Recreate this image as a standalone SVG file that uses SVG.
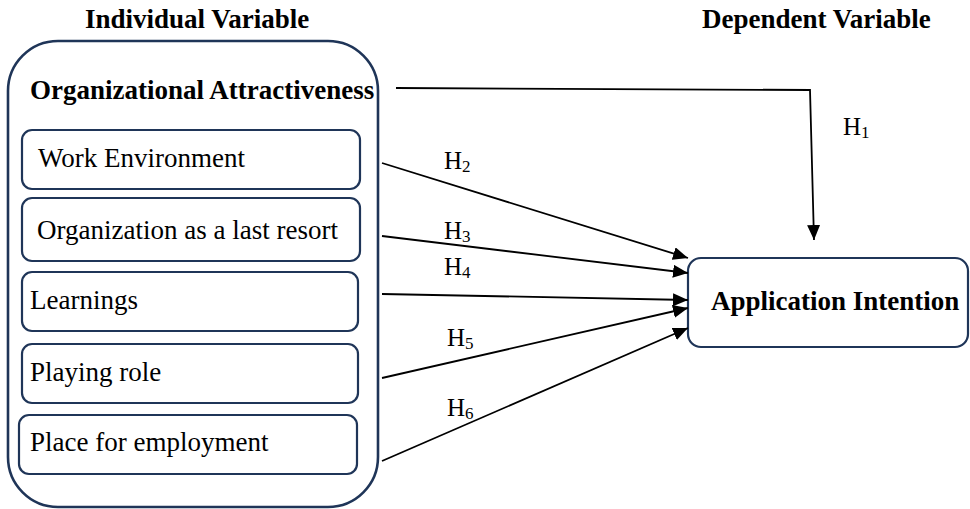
<svg xmlns="http://www.w3.org/2000/svg" width="970" height="509" viewBox="0 0 970 509">
  <defs>
    <style>
      text { font-family: "Liberation Serif", "Times New Roman", serif; fill: #000; }
      .title { font-size: 27px; font-weight: bold; }
      .item { font-size: 27px; }
      .hyp { font-size: 25px; }
      .sub { font-size: 17px; }
      .box { fill: #fff; stroke: #1f3558; stroke-width: 2.2; }
      .outer { fill: #fff; stroke: #1f3558; stroke-width: 2.6; }
      .conn { fill: none; stroke: #000; stroke-width: 1.8; }
    </style>
    <marker id="arrow" markerUnits="userSpaceOnUse" markerWidth="16" markerHeight="13" refX="15" refY="6.5" orient="auto">
      <path d="M0,0 L15,6.5 L0,13 z" fill="#000"/>
    </marker>
  </defs>
  <rect width="970" height="509" fill="#fff"/>

  <text class="title" x="85" y="28">Individual Variable</text>
  <text class="title" x="702" y="28">Dependent Variable</text>

  <g id="organizational-attractiveness">
    <rect class="outer" x="8" y="41" width="370" height="466" rx="50" ry="50"/>
    <text class="title" x="30" y="99">Organizational Attractiveness</text>
  </g>

  <g id="work-environment">
    <rect class="box" x="22" y="130" width="338" height="59" rx="10" ry="10"/>
    <text class="item" x="38" y="167">Work Environment</text>
  </g>
  <g id="last-resort">
    <rect class="box" x="22" y="198" width="338" height="63" rx="10" ry="10"/>
    <text class="item" x="37" y="239">Organization as a last resort</text>
  </g>
  <g id="learnings">
    <rect class="box" x="22" y="272" width="336" height="59" rx="10" ry="10"/>
    <text class="item" x="30" y="309">Learnings</text>
  </g>
  <g id="playing-role">
    <rect class="box" x="22" y="344" width="336" height="59" rx="10" ry="10"/>
    <text class="item" x="30" y="381">Playing role</text>
  </g>
  <g id="place-for-employment">
    <rect class="box" x="19" y="415" width="338" height="59" rx="10" ry="10"/>
    <text class="item" x="30" y="451">Place for employment</text>
  </g>

  <g id="application-intention">
    <rect class="box" x="688" y="258" width="280" height="89" rx="13" ry="13"/>
    <text class="title" x="711" y="310">Application Intention</text>
  </g>

  <g id="connectors">
    <polyline class="conn" points="396,88 810,90 814,240" marker-end="url(#arrow)"/>
    <line class="conn" x1="382" y1="163" x2="688" y2="258" marker-end="url(#arrow)"/>
    <line class="conn" x1="382" y1="236" x2="688" y2="273" marker-end="url(#arrow)"/>
    <line class="conn" x1="382" y1="294" x2="688" y2="300" marker-end="url(#arrow)"/>
    <line class="conn" x1="382" y1="378" x2="688" y2="308" marker-end="url(#arrow)"/>
    <line class="conn" x1="382" y1="461" x2="688" y2="328" marker-end="url(#arrow)"/>
  </g>

  <g id="labels">
    <text class="hyp" x="843" y="135">H<tspan class="sub" dy="3">1</tspan></text>
    <text class="hyp" x="444" y="169">H<tspan class="sub" dy="3">2</tspan></text>
    <text class="hyp" x="444" y="239">H<tspan class="sub" dy="3">3</tspan></text>
    <text class="hyp" x="444" y="275">H<tspan class="sub" dy="3">4</tspan></text>
    <text class="hyp" x="447" y="346">H<tspan class="sub" dy="3">5</tspan></text>
    <text class="hyp" x="447" y="416">H<tspan class="sub" dy="3">6</tspan></text>
  </g>
</svg>
